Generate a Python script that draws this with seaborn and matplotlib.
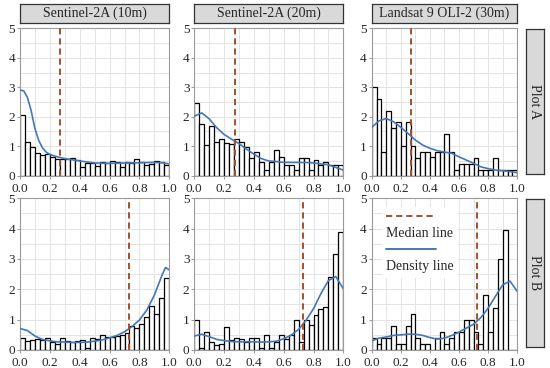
import matplotlib
matplotlib.use('Agg')
import matplotlib.pyplot as plt
from matplotlib.lines import Line2D
import numpy as np
import seaborn as sns

# column / row titles
col_titles = ['Sentinel-2A (10m)', 'Sentinel-2A (20m)', 'Landsat 9 OLI-2 (30m)']
row_titles = ['Plot A', 'Plot B']

# histogram heights, 30 bins on [0, 1]
hist_a = [
    [2.05, 1.15, 0.98, 0.76, 0.70, 0.74, 0.63, 0.55, 0.58, 0.57, 0.60, 0.52, 0.30, 0.42, 0.43,
     0.33, 0.45, 0.43, 0.50, 0.45, 0.30, 0.45, 0.42, 0.55, 0.47, 0.37, 0.38, 0.50, 0.45, 0.35],
    [2.47, 1.76, 1.05, 1.69, 1.15, 1.24, 1.10, 1.06, 1.24, 1.15, 0.99, 0.61, 0.79, 0.45, 0.19,
     0.47, 0.88, 0.63, 0.37, 0.37, 0.19, 0.61, 0.61, 0.20, 0.52, 0.36, 0.45, 0.36, 0.36, 0.36],
    [3.0, 2.6, 0.8, 2.2, 1.62, 1.82, 1.0, 1.82, 1.02, 0.6, 0.8, 0.8, 0.62, 0.8, 0.8,
     1.4, 0.8, 0.2, 0.4, 0.4, 0.4, 0.6, 0.2, 0.2, 0.2, 0.6, 0.2, 0.2, 0.2, 0.2],
]
hist_b = [
    [0.38, 0.31, 0.33, 0.35, 0.33, 0.38, 0.25, 0.21, 0.38, 0.30, 0.26, 0.30, 0.34, 0.06, 0.41,
     0.36, 0.48, 0.42, 0.42, 0.45, 0.50, 0.56, 0.80, 0.72, 0.86, 1.10, 1.44, 1.18, 1.70, 2.38],
    [1.0, 0.08, 0.59, 0.25, 0.18, 0.19, 0.76, 0.33, 0.41, 0.36, 0.27, 0.41, 0.41, 0.08, 0.49,
     0.08, 0.25, 0.49, 0.35, 0.49, 1.0, 0.25, 1.0, 0.84, 1.17, 1.34, 1.41, 2.4, 3.15, 3.9],
    [0.4, 0.2, 0.4, 0.4, 0.8, 0.2, 0.2, 0.8, 1.2, 0.4, 0.2, 0.2, 0.0, 0.4, 0.6,
     0.2, 0.4, 0.6, 0.6, 1.0, 1.0, 0.6, 0.2, 1.8, 0.6, 1.4, 3.0, 3.95, 0.0, 0.0],
]

# density curves
dens_x = [0.0, 0.05, 0.1, 0.15, 0.2, 0.25, 0.3, 0.35, 0.4, 0.45, 0.5,
          0.55, 0.6, 0.65, 0.7, 0.75, 0.8, 0.85, 0.9, 0.95, 1.0]
dens_x_a1 = [0.0, 0.025, 0.05, 0.075, 0.1, 0.125, 0.15, 0.175, 0.2, 0.25, 0.3,
             0.35, 0.4, 0.5, 0.6, 0.7, 0.8, 0.9, 0.95, 1.0]
dens_x_b1 = [0.0, 0.05, 0.1, 0.15, 0.2, 0.25, 0.3, 0.35, 0.4, 0.45, 0.5,
             0.55, 0.6, 0.65, 0.7, 0.75, 0.8, 0.85, 0.9, 0.95, 0.975, 1.0]
dens_a = [
    [2.9, 2.88, 2.65, 2.2, 1.6, 1.2, 0.95, 0.8, 0.72, 0.64, 0.58,
     0.54, 0.5, 0.43, 0.42, 0.43, 0.44, 0.45, 0.44, 0.40],
    [2.02, 2.13, 1.93, 1.63, 1.4, 1.24, 1.09, 0.9, 0.73, 0.58, 0.5,
     0.48, 0.45, 0.45, 0.45, 0.45, 0.43, 0.4, 0.37, 0.28, 0.19],
    [1.64, 1.86, 1.94, 1.83, 1.64, 1.43, 1.21, 1.04, 0.93, 0.85, 0.8,
     0.76, 0.64, 0.53, 0.42, 0.3, 0.24, 0.19, 0.17, 0.14, 0.1],
]
dens_b = [
    [0.71, 0.64, 0.46, 0.35, 0.3, 0.27, 0.26, 0.25, 0.25, 0.26, 0.29,
     0.33, 0.4, 0.48, 0.6, 0.77, 0.99, 1.32, 1.81, 2.45, 2.72, 2.64],
    [0.46, 0.52, 0.44, 0.35, 0.31, 0.28, 0.27, 0.27, 0.27, 0.26, 0.27,
     0.29, 0.37, 0.49, 0.68, 0.98, 1.36, 1.86, 2.29, 2.42, 2.02],
    [0.3, 0.39, 0.43, 0.48, 0.5, 0.52, 0.52, 0.48, 0.41, 0.36, 0.39,
     0.48, 0.59, 0.72, 0.85, 1.07, 1.38, 1.77, 2.15, 2.27, 1.93],
]

medians_a = [0.265, 0.275, 0.268]
medians_b = [0.733, 0.727, 0.724]

sns.set_theme(style='whitegrid')
plt.rcParams['font.family'] = ['Liberation Serif', 'DejaVu Serif']

W, H = 550, 368
fig = plt.figure(figsize=(W / 100, H / 100), dpi=100)


def box(x0, y0, x1, y1):
    return [x0 / W, 1 - y1 / H, (x1 - x0) / W, (y1 - y0) / H]


col_x = [(20, 169.3), (194.3, 343.3), (371.7, 517.3)]
row_y = [(28.3, 175.7), (198.3, 350)]

med_color = '#a4502c'
dens_color = '#4477b8'
dash = (0, (3.2, 2))
edges = np.linspace(0, 1, 31)
centers = (edges[:-1] + edges[1:]) / 2

all_hist = [hist_a, hist_b]
all_dens = [dens_a, dens_b]
all_med = [medians_a, medians_b]

for r in range(2):
    for c in range(3):
        ax = fig.add_axes(box(col_x[c][0], row_y[r][0], col_x[c][1], row_y[r][1]))
        sns.histplot(x=centers, weights=all_hist[r][c], bins=30, binrange=(0, 1),
                     color='white', edgecolor='black', linewidth=0.9, alpha=1, ax=ax, zorder=2)
        xs = dens_x
        if r == 0 and c == 0:
            xs = dens_x_a1
        if r == 1 and c == 0:
            xs = dens_x_b1
        sns.lineplot(x=xs, y=all_dens[r][c], color=dens_color, lw=1.2, ax=ax, zorder=4)
        ax.axvline(all_med[r][c], color=med_color, ls=dash, lw=1.4, zorder=5)
        ax.set_xlim(0, 1)
        ax.set_ylim(0, 5)
        ax.set_xticks(np.arange(0, 1.01, 0.2))
        ax.set_xticks(np.arange(0.1, 1.0, 0.2), minor=True)
        ax.set_yticks(range(6))
        ax.set_yticks(np.arange(0.5, 5, 1.0), minor=True)
        ax.set_xticklabels(['0.0', '0.2', '0.4', '0.6', '0.8', '1.0'])
        ax.grid(which='both', color='#e4e4e4', lw=0.7)
        ax.set_axisbelow(True)
        ax.set_xlabel('')
        ax.set_ylabel('')
        ax.tick_params(which='major', labelsize=9.5, length=2.5, width=0.6, color='#888888',
                       bottom=True, left=True)
        ax.tick_params(axis='x', pad=2.5)
        ax.tick_params(axis='y', pad=1)
        ax.tick_params(which='minor', length=0)
        for s in ax.spines.values():
            s.set_color('#9a9a9a')
            s.set_linewidth(0.8)

        if r == 1 and c == 2:
            handles = [Line2D([], [], color=med_color, ls=dash, lw=1.4),
                       Line2D([], [], alpha=0),
                       Line2D([], [], color=dens_color, lw=1.4),
                       Line2D([], [], alpha=0)]
            labels = ['', 'Median line', '', 'Density line']
            ax.legend(handles, labels, loc='upper left', bbox_to_anchor=(0.02, 0.99),
                      handlelength=3.6, handletextpad=-3.6, labelspacing=0.25,
                      fontsize=10, frameon=True, facecolor='white', edgecolor='none',
                      framealpha=1, borderpad=0.3)

# column headers
for c in range(3):
    hx = fig.add_axes(box(col_x[c][0], 4, col_x[c][1], 22.7))
    hx.set_facecolor('#d9d9d9')
    hx.set_xticks([])
    hx.set_yticks([])
    hx.grid(False)
    for s in hx.spines.values():
        s.set_color('#333333')
        s.set_linewidth(0.9)
    hx.text(0.5, 0.5, col_titles[c], ha='center', va='center', fontsize=10, transform=hx.transAxes)

# row labels
row_box = [(29, 174), (199, 346.7)]
for r in range(2):
    rx = fig.add_axes(box(525.7, row_box[r][0], 544, row_box[r][1]))
    rx.set_facecolor('#d9d9d9')
    rx.set_xticks([])
    rx.set_yticks([])
    rx.grid(False)
    for s in rx.spines.values():
        s.set_color('#333333')
        s.set_linewidth(0.9)
    rx.text(0.5, 0.5, row_titles[r], ha='center', va='center', rotation=270, fontsize=10,
            transform=rx.transAxes)

fig.savefig('out.png', dpi=100)
